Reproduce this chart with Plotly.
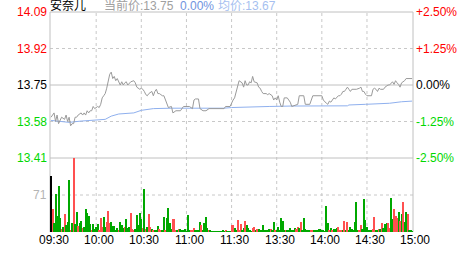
import plotly.graph_objects as go

# ---------------- data ----------------
stock_name = "安奈儿"
prev_close = 13.75
cur_price_text = "当前价:13.75"
cur_pct_text = "0.00%"
avg_text = "均价:13.67"

price_ticks = [14.09, 13.92, 13.75, 13.58, 13.41]
pct_labels = ["+2.50%", "+1.25%", "0.00%", "-1.25%", "-2.50%"]
time_ticks = [0, 30, 60, 90, 120, 150, 180, 210, 240]
time_labels = ["09:30", "10:00", "10:30", "11:00", "11:30", "13:30", "14:00", "14:30", "15:00"]
vol_tick = 71
vol_max = 142

price_t = [0, 2, 3, 4, 5, 7, 9, 10, 11, 12, 13, 14, 15, 16, 17, 18, 20, 21, 22, 23, 24, 25, 26, 27, 28, 29,
           31, 32, 33, 34, 35, 36, 37, 38, 39, 40, 41, 42, 43, 44, 45, 46, 47, 48, 49, 50, 51, 52, 53, 55,
           56, 57, 58, 59, 60, 61, 62, 63, 64, 65, 67, 68, 69, 70, 71, 72, 73, 74, 75, 76, 77, 78, 80, 81,
           83, 86, 88, 92, 94, 95, 96, 98, 99, 101, 103, 105, 115, 116, 119, 120, 121, 122, 123, 124, 125,
           127, 128, 129, 130, 131, 132, 133, 134, 135, 137, 138, 139, 140, 141, 143, 144, 145, 147, 148,
           149, 150, 151, 152, 153, 154, 155, 157, 159, 160, 162, 164, 165, 168, 169, 172, 174, 180, 181,
           182, 183, 184, 185, 186, 187, 188, 189, 191, 192, 193, 194, 195, 196, 197, 198, 199, 200, 203,
           205, 206, 207, 208, 209, 210, 213, 214, 215, 216, 217, 218, 219, 221, 222, 223, 224, 225, 226,
           227, 228, 229, 230, 231, 232, 233, 235, 236, 240]
price_v = [13.60, 13.62, 13.58, 13.61, 13.57, 13.60, 13.59, 13.61, 13.58, 13.60, 13.56, 13.57, 13.57, 13.60,
           13.60, 13.61, 13.62, 13.61, 13.62, 13.61, 13.63, 13.62, 13.63, 13.63, 13.65, 13.64,
           13.65, 13.645, 13.66, 13.69, 13.70, 13.71, 13.735, 13.77, 13.80, 13.81, 13.78, 13.79, 13.77,
           13.78, 13.76, 13.75, 13.765, 13.75, 13.76, 13.765, 13.75, 13.76, 13.765, 13.77,
           13.76, 13.74, 13.735, 13.73, 13.735, 13.73, 13.72, 13.705, 13.70, 13.71, 13.72, 13.70, 13.72,
           13.73, 13.71, 13.71, 13.705, 13.70, 13.70, 13.68, 13.66, 13.645, 13.65, 13.62,
           13.63, 13.63, 13.65, 13.65, 13.64, 13.68, 13.685, 13.685, 13.64, 13.63, 13.63, 13.64, 13.64,
           13.65, 13.65, 13.67, 13.68, 13.69, 13.72, 13.75, 13.77,
           13.76, 13.74, 13.77, 13.75, 13.75, 13.765, 13.76, 13.79, 13.765, 13.76, 13.74, 13.735, 13.72,
           13.71, 13.71, 13.705, 13.71, 13.70, 13.68,
           13.69, 13.68, 13.70, 13.67, 13.65, 13.65, 13.69, 13.69, 13.67, 13.65, 13.655, 13.66, 13.70,
           13.70, 13.66, 13.66, 13.70, 13.70, 13.68,
           13.67, 13.665, 13.66, 13.675, 13.67, 13.68, 13.69, 13.685, 13.70, 13.70, 13.707, 13.72, 13.72,
           13.73, 13.74, 13.73, 13.72, 13.73, 13.73,
           13.735, 13.74, 13.72, 13.72, 13.707, 13.70, 13.70, 13.73, 13.735, 13.73, 13.72, 13.735, 13.73,
           13.73, 13.74, 13.747, 13.75, 13.75, 13.76,
           13.765, 13.753, 13.77, 13.76, 13.753, 13.74, 13.76, 13.77, 13.78, 13.78]

avg_t = [0, 12, 20, 30, 36, 40, 45, 55, 60, 68, 80, 115, 120, 145, 160, 197, 198, 209, 225, 233, 240]
avg_v = [13.585, 13.576, 13.582, 13.588, 13.59, 13.605, 13.615, 13.62, 13.632, 13.64, 13.642, 13.642,
         13.645, 13.65, 13.652, 13.653, 13.657, 13.66, 13.665, 13.672, 13.675]

volume = [107, 45, 17, 73, 30, 89, 26, 6, 10, 35, 14, 20, 100, 3, 18, 142, 16, 39, 12, 18,
          22, 7, 10, 45, 37, 30, 16, 3, 15, 6, 10, 15, 4, 26, 10, 28, 10, 20, 41, 18,
          20, 12, 12, 4, 7, 4, 19, 13, 8, 10, 25, 7, 10, 36, 5, 3, 5, 32, 14, 37,
          24, 8, 83, 5, 10, 34, 10, 5, 2, 3, 3, 12, 5, 3, 3, 28, 4, 26, 46, 17,
          5, 24, 24, 3, 2, 6, 5, 4, 3, 5, 1, 33, 3, 4, 3, 7, 2, 2, 2, 20,
          14, 4, 18, 28, 7, 4, 2, 1, 1, 1, 1, 1, 1, 1, 3, 1, 4, 1, 1, 1,
          13, 13, 7, 2, 23, 3, 15, 3, 8, 22, 13, 8, 2, 1, 8, 10, 3, 5, 5, 2,
          2, 13, 4, 2, 2, 5, 5, 2, 20, 4, 3, 10, 2, 26, 22, 2, 4, 2, 2, 7,
          3, 4, 8, 6, 10, 8, 20, 4, 26, 6, 4, 2, 2, 3, 3, 4, 3, 4, 5, 5,
          4, 3, 1, 50, 17, 4, 8, 3, 5, 5, 7, 10, 3, 3, 4, 22, 3, 20, 3, 10,
          5, 3, 20, 58, 3, 4, 13, 5, 63, 23, 10, 3, 2, 4, 6, 28, 2, 3, 5, 5,
          18, 8, 15, 18, 18, 8, 66, 24, 45, 30, 26, 39, 21, 34, 58, 20, 39, 34, 2, 2,
          1]
# direction of each minute bar: k = opening auction, r = up, g = down
vol_dir = list("krgggggrgrgggrgrggrg"
               "grgggggrggggrrrggrrr"
               "gggggrgggrgggrrrgggg"
               "grgrgrrgrgggrrggrggg"
               "grrrgrgggggggrrrgggg"
               "rggggrggggggggggrggg"
               "rrggrrrggrggggrrgrgg"
               "ggggggrggrggggggrggg"
               "gggrrgrggggggrrggggg"
               "gggggrgrgggrrrgrgrgg"
               "gggggrrgggggggrrggrg"
               "rgggrrggrrrgrgrggrgg"
               "g")
minutes = list(range(len(volume)))

# ---------------- style ----------------
FONT = "Liberation Sans, Arial, Noto Sans CJK SC, sans-serif"
RED, GREEN, BLACK = "#ff0000", "#00d800", "#000000"
GRID = "#c8c8c8"
BORDER = "#c0c0c0"
bar_colors_map = {"r": "#ff5050", "g": "#00a800", "k": "#000000"}
bar_colors = [bar_colors_map[d] for d in vol_dir]

W, H = 463, 255
ML, MR, MT, MB = 50, 50, 12, 23
plot_h = H - MT - MB
vol_frac = 74 / plot_h

fig = go.Figure()
fig.add_trace(go.Bar(x=minutes, y=volume, marker=dict(color=bar_colors, line=dict(width=0)),
                     width=0.7, xaxis="x", yaxis="y2", hoverinfo="skip"))
fig.add_trace(go.Scatter(x=avg_t, y=avg_v, mode="lines", line=dict(color="#8fb0ee", width=1),
                         xaxis="x", yaxis="y", hoverinfo="skip"))
fig.add_trace(go.Scatter(x=price_t, y=price_v, mode="lines", line=dict(color="#9a9a9a", width=1),
                         xaxis="x", yaxis="y", hoverinfo="skip"))

shapes = []
for t in time_ticks[1:-1]:
    shapes.append(dict(type="line", xref="x", yref="paper", x0=t, x1=t, y0=0, y1=1,
                       line=dict(color=GRID, width=1, dash="dot"), layer="below"))
for p in [price_ticks[1], price_ticks[3]]:
    shapes.append(dict(type="line", xref="paper", yref="y", x0=0, x1=1, y0=p, y1=p,
                       line=dict(color=GRID, width=1, dash="dot"), layer="below"))
shapes.append(dict(type="line", xref="paper", yref="y2", x0=0, x1=1, y0=vol_tick, y1=vol_tick,
                   line=dict(color=GRID, width=1, dash="dot"), layer="below"))
shapes.append(dict(type="line", xref="paper", yref="y", x0=0, x1=1, y0=prev_close, y1=prev_close,
                   line=dict(color=BORDER, width=1), layer="below"))
# borders
for y in [1, vol_frac]:
    shapes.append(dict(type="line", xref="paper", yref="paper", x0=0, x1=1, y0=y, y1=y,
                       line=dict(color=BORDER, width=1), layer="below"))
for x in [0, 1]:
    shapes.append(dict(type="line", xref="paper", yref="paper", x0=x, x1=x, y0=0, y1=1,
                       line=dict(color=BORDER, width=1), layer="below"))

ann = []
def col(p):
    if abs(p - prev_close) < 1e-9:
        return BLACK
    return RED if p > prev_close else GREEN

for p, pl in zip(price_ticks, pct_labels):
    c = col(p)
    ann.append(dict(x=0, xref="paper", y=p, yref="y", text=f"{p:.2f}", showarrow=False,
                    xanchor="right", yanchor="middle", xshift=-1, font=dict(family=FONT, size=12, color=c)))
    ann.append(dict(x=1, xref="paper", y=p, yref="y", text=pl, showarrow=False,
                    xanchor="left", yanchor="middle", xshift=1, font=dict(family=FONT, size=12, color=c)))
ann.append(dict(x=0, xref="paper", y=vol_tick, yref="y2", text=str(vol_tick), showarrow=False,
                xanchor="right", yanchor="middle", xshift=-1, font=dict(family=FONT, size=12, color="#b4b4b4")))
for t, lab in zip(time_ticks, time_labels):
    ann.append(dict(x=t, xref="x", y=-8 / plot_h, yref="paper", text=lab, showarrow=False,
                    xanchor="center", yanchor="middle", xshift=3,
                    font=dict(family=FONT, size=12, color=BLACK)))

ty = 1 + 6 / plot_h
for px, txt, c in [(50, stock_name, "#000000"), (104, cur_price_text, "#a0a0a0"),
                   (180, cur_pct_text, "#7094e0"), (218, avg_text, "#a6bff0")]:
    ann.append(dict(x=(px - ML) / (W - ML - MR), xref="paper", y=ty, yref="paper", text=txt,
                    showarrow=False, xanchor="left", yanchor="middle", xshift=-2,
                    font=dict(family=FONT, size=12, color=c)))

fig.update_layout(
    width=W, height=H, margin=dict(l=ML, r=MR, t=MT, b=MB),
    paper_bgcolor="white", plot_bgcolor="white", showlegend=False, bargap=0,
    xaxis=dict(range=[-0.7, 240.6], domain=[0, 1], anchor="y2", visible=False, fixedrange=True),
    yaxis=dict(range=[price_ticks[-1], price_ticks[0]], domain=[vol_frac, 1], visible=False),
    yaxis2=dict(range=[0, vol_max], domain=[0, vol_frac], visible=False),
    shapes=shapes, annotations=ann,
)
fig.write_html("out.html")
